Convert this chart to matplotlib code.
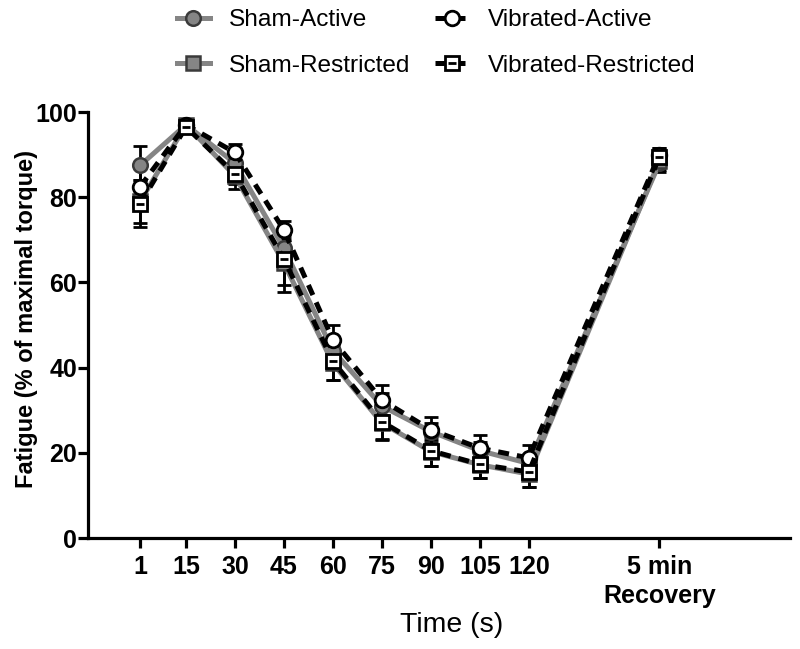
import matplotlib
matplotlib.use("Agg")
import matplotlib.pyplot as plt
from matplotlib.legend_handler import HandlerTuple

plt.rcParams['font.family'] = ['Liberation Sans', 'DejaVu Sans']
narrow = ['Liberation Sans Narrow', 'Liberation Sans', 'DejaVu Sans']

# time points (s); last one is the 5 min recovery measurement
times = [1, 15, 30, 45, 60, 75, 90, 105, 120, 160]
tick_labels = ['1', '15', '30', '45', '60', '75', '90', '105', '120', '5 min\nRecovery']

sham_active = [87.5, 97, 88, 68, 44, 31, 25, 20.5, 17.5, 88]
sham_active_err = [4.5, 1, 2, 3, 3, 3, 2, 2, 2, 2]
vib_active = [82.5, 97, 90.5, 72.3, 46.5, 32.4, 25.4, 21.1, 18.8, 90]
vib_active_err = [5, 1, 2, 2.2, 3.5, 3.6, 3, 3.1, 3, 1.5]
sham_restr = [79, 97, 85, 64.5, 41, 27, 20.3, 17.2, 15, 88.5]
sham_restr_err = [5, 1, 3, 6.8, 4, 4, 3.5, 3.2, 3, 2]
vib_restr = [78.5, 96.5, 85.5, 65.5, 41.5, 27.3, 20.5, 17.3, 15.5, 89.5]
vib_restr_err = [5.5, 1, 2.5, 6, 4.5, 4, 3.7, 3.3, 3.5, 2]

grey = '#858585'
fig = plt.figure(figsize=(8, 6.49), dpi=100)
ax = fig.add_axes([0.11, 0.171, 0.8775, 0.6564])

ebkw = dict(ecolor='black', elinewidth=2, capsize=5, capthick=2, fmt='none', zorder=2)
for y, e in [(sham_active, sham_active_err), (vib_active, vib_active_err),
             (sham_restr, sham_restr_err), (vib_restr, vib_restr_err)]:
    ax.errorbar(times, y, yerr=e, **ebkw)

h1, = ax.plot(times, sham_active, color=grey, lw=3.6, marker='o', ms=10.5,
              mfc=grey, mec='#3a3a3a', mew=1.8, zorder=3)
h2, = ax.plot(times, sham_restr, color=grey, lw=3.6, marker='s', ms=10.5,
              mfc=grey, mec='#3a3a3a', mew=1.8, zorder=3)
h3, = ax.plot(times, vib_active, color='black', lw=3.6, dashes=(2.2, 1.6), marker='o',
              ms=10.5, mfc='white', mec='black', mew=2, zorder=4)
h4, = ax.plot(times, vib_restr, color='black', lw=3.6, dashes=(2.2, 1.6), marker='s',
              ms=10.5, mfc='white', mec='black', mew=2, zorder=4)
h4b, = ax.plot(times, vib_restr, ls='none', marker='_', ms=6, mew=2, color='black', zorder=5)

ax.set_xlim(-15, 200)
ax.set_ylim(0, 100)
ax.set_yticks([0, 20, 40, 60, 80, 100])
ax.set_xticks(times)
ax.set_xticklabels(tick_labels, fontsize=18, fontweight='bold', family=narrow,
                   linespacing=1.3)
for lab in ax.get_yticklabels():
    lab.set_fontsize(18)
    lab.set_fontweight('bold')
    lab.set_family(narrow)

for s in ['top', 'right']:
    ax.spines[s].set_visible(False)
for s in ['left', 'bottom']:
    ax.spines[s].set_linewidth(2.3)
ax.tick_params(axis='both', width=2.3, length=7, direction='out')
ax.tick_params(axis='y', pad=1)
ax.tick_params(axis='x', pad=5)

ax.set_ylabel('Fatigue (% of maximal torque)', fontsize=17, fontweight='bold')
ax.yaxis.set_label_coords(-0.071, 0.515)
ax.set_xlabel('Time (s)', fontsize=20.5)
ax.xaxis.set_label_coords(0.5185, -0.173)

fig.legend([h1, h2, h3, (h4, h4b)],
           ['Sham-Active', 'Sham-Restricted', 'Vibrated-Active', 'Vibrated-Restricted'],
           handler_map={tuple: HandlerTuple(ndivide=1)},
           ncol=2, loc='upper center', bbox_to_anchor=(0.545, 1.012), frameon=False,
           fontsize=17.6, handlelength=1.35, handletextpad=0.8, columnspacing=1.0,
           labelspacing=0.95, borderpad=0.2)

fig.savefig('out.png', dpi=100)
